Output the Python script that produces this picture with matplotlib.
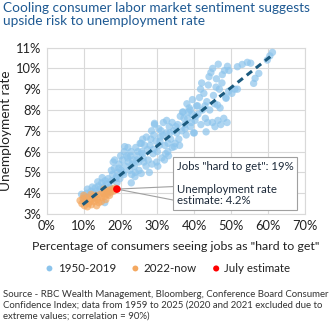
import matplotlib
matplotlib.use("Agg")
import matplotlib.pyplot as plt
from matplotlib.ticker import FuncFormatter, MultipleLocator
from matplotlib.patches import Rectangle

plt.rcParams['font.family'] = ['Lato', 'DejaVu Sans']

title = "Cooling consumer labor market sentiment suggests\nupside risk to unemployment rate"
xlabel = 'Percentage of consumers seeing jobs as "hard to get"'
ylabel = "Unemployment rate"
source = ("Source - RBC Wealth Management, Bloomberg, Conference Board Consumer\n"
          "Confidence Index; data from 1959 to 2025 (2020 and 2021 excluded due to\n"
          "extreme values; correlation = 90%)")
legend_labels = ["1950-2019", "2022-now", "July estimate"]

blue_x = [9.4, 10.2, 10.8, 11.5, 12.0, 12.6, 13.1, 13.5, 14.0, 14.4, 14.9, 15.3, 15.8, 16.2, 16.6,
          12.3, 13.8, 15.0, 15.7, 17.0, 17.5, 11.0, 10.0, 13.0, 16.5,
          17.8, 18.3, 18.7, 19.2, 19.6, 20.1, 20.5, 20.9, 21.3, 21.7, 22.1, 22.5, 22.9, 23.3, 23.7,
          24.1, 24.5, 24.9, 25.3, 25.7, 26.1, 26.5, 26.9, 20.0, 21.0, 22.0, 23.0, 24.0, 25.0, 19.0,
          18.0, 17.5, 26.0, 27.3, 27.8, 27.0, 18.4, 21.1, 25.6, 22.9, 25.6, 16.9, 19.8, 23.9,
          19.5, 20.7, 21.9, 23.1, 24.4, 25.9, 18.9, 22.7, 24.7, 26.3,
          27.5, 28.0, 28.4, 28.8, 29.2, 29.6, 30.0, 30.4, 30.8, 31.2, 31.6, 32.0, 32.4, 32.8, 33.2,
          33.6, 34.0, 34.4, 34.8, 35.2, 29.0, 30.5, 31.0, 32.5, 33.0, 34.0, 28.5, 29.8, 31.9, 34.6,
          29.2, 30.1, 32.2, 28.2, 30.7, 31.5, 33.4, 28.9, 32.9, 35.0,
          35.5, 35.8, 36.2, 36.6, 37.0, 37.4, 37.8, 38.2, 38.6, 39.0, 39.4, 39.5, 39.8, 40.2, 40.6,
          41.0, 41.4, 41.7, 41.8, 42.2, 42.6, 43.0, 43.2, 43.4, 43.8, 44.2, 44.5, 44.9, 45.2, 45.6,
          46.0, 46.4, 46.8, 47.2, 47.6, 48.0, 48.6, 48.9, 49.0, 49.4, 50.2, 51.7, 36.0, 38.0, 40.0,
          42.0, 44.0, 45.0, 46.5, 47.5, 48.2, 45.5, 47.0, 46.3, 36.8, 38.9, 40.9, 37.5, 39.2, 49.3,
          51.0, 48.6, 37.2, 38.4, 40.4, 42.9, 43.6, 45.9,
          51.7, 53.0, 54.4, 57.5, 56.5, 56.1, 59.8, 61.2, 60.5, 55.3]
blue_y = [3.95, 3.85, 4.0, 3.9, 4.1, 4.0, 4.25, 4.1, 4.35, 4.2, 4.5, 4.3, 4.6, 4.45, 4.7,
          4.3, 4.55, 4.75, 3.55, 4.3, 4.6, 4.2, 3.7, 3.8, 4.05,
          4.9, 5.2, 4.7, 5.0, 5.4, 5.1, 5.6, 4.9, 5.3, 5.8, 5.5, 5.1, 6.0, 5.6, 5.3,
          6.2, 5.8, 5.5, 6.4, 6.0, 5.7, 6.3, 5.3, 5.8, 6.0, 6.2, 4.9, 5.0, 5.1, 4.5,
          5.5, 5.1, 6.6, 6.1, 5.0, 6.7, 5.6, 6.24, 6.4, 4.5, 4.95, 4.3, 4.7, 4.8,
          5.2, 5.0, 5.7, 5.4, 5.6, 5.9, 4.8, 5.8, 6.0, 5.5,
          5.6, 6.3, 7.0, 5.9, 7.3, 6.5, 6.0, 7.1, 6.7, 5.7, 7.4, 6.3, 6.9, 6.0, 7.2,
          6.6, 6.2, 7.0, 6.4, 6.9, 6.8, 6.3, 7.0, 7.5, 5.8, 7.4, 5.4, 5.5, 5.6, 6.24,
          7.36, 5.3, 5.9, 6.6, 6.5, 6.8, 6.9, 6.1, 6.4, 7.2,
          7.3, 6.6, 7.7, 7.0, 7.9, 7.3, 6.8, 7.6, 8.1, 7.2, 7.8, 8.5, 6.9, 7.5, 8.2,
          7.8, 8.6, 9.0, 7.3, 8.0, 8.8, 7.6, 6.95, 8.4, 9.2, 8.0, 9.8, 7.4, 8.7, 7.2,
          9.5, 7.5, 9.0, 7.3, 9.7, 7.6, 8.6, 7.4, 10.1, 9.9, 8.8, 9.0, 6.3, 8.3, 6.9,
          9.3, 9.6, 10.0, 10.2, 9.3, 9.9, 8.3, 8.1, 8.24, 7.9, 8.0, 8.2, 7.1, 7.4, 8.9,
          9.0, 8.56, 7.6, 7.9, 7.7, 8.2, 7.4, 9.1,
          10.08, 10.19, 10.29, 9.76, 9.52, 9.28, 10.4, 10.77, 10.6, 10.25]

orange_x = [9.0, 9.5, 9.8, 10.2, 10.5, 10.9, 11.3, 11.7, 12.1, 12.5, 12.9, 13.3, 13.7, 14.1, 14.5,
            14.9, 15.3, 15.7, 16.1, 16.5, 16.9, 17.3, 17.7, 18.1, 11.0, 12.0, 13.5, 14.8, 16.0,
            10.0, 11.8, 13.0, 15.5, 17.0, 18.5]
orange_y = [3.65, 3.5, 3.75, 3.4, 3.6, 3.8, 3.5, 3.7, 3.45, 3.85, 3.6, 3.9, 3.7, 3.55, 3.95,
            3.8, 4.0, 3.85, 4.1, 3.95, 4.15, 4.05, 4.2, 4.1, 3.35, 3.95, 3.4, 3.6, 3.7,
            3.9, 3.6, 3.75, 4.2, 3.9, 4.25]

july_x = [19.0]
july_y = [4.2]

trend_x = [9.7, 61.6]
trend_y = [3.45, 10.7]

annot_text = 'Jobs "hard to get": 19%\n\nUnemployment rate\nestimate: 4.2%'

fig = plt.figure(figsize=(3.35, 3.35), dpi=100)
ax = fig.add_axes([0.140, 0.361, 0.770, 0.497])

ax.scatter(blue_x, blue_y, s=28, color='#8cc4ec', alpha=0.7, edgecolors='none', zorder=3,
           label=legend_labels[0])
ax.scatter(orange_x, orange_y, s=28, color='#f4a860', alpha=0.7, edgecolors='none', zorder=4,
           label=legend_labels[1])
ax.plot(trend_x, trend_y, color='#1b5a7e', lw=2.2, ls=(0, (2.2, 1.6)), zorder=5)
ax.scatter(july_x, july_y, s=30, color='#ff0000', edgecolors='none', zorder=6,
           label=legend_labels[2])

# callout leader lines and box
ax.plot([july_x[0], 34.1], [july_y[0], 4.32], color='#a0a0a0', lw=0.8, zorder=5)
ax.plot([july_x[0], 34.1], [july_y[0], 3.68], color='#a0a0a0', lw=0.8, zorder=5)
ax.add_patch(Rectangle((34.1, 3.2), 33.7, 2.52, fc='white', ec='#a0a0a0', lw=0.8, zorder=7))
ax.text(35.3, 5.55, annot_text, fontsize=8.2, color='#1d2a3a', va='top', ha='left',
        linespacing=1.05, zorder=8)

ax.set_xlim(0, 70)
ax.set_ylim(3, 11)
ax.xaxis.set_major_locator(MultipleLocator(10))
ax.yaxis.set_major_locator(MultipleLocator(1))
ax.xaxis.set_major_formatter(FuncFormatter(lambda v, p: f"{v:.0f}%"))
ax.yaxis.set_major_formatter(FuncFormatter(lambda v, p: f"{v:.0f}%"))
ax.grid(True, color='#d9d9d9', lw=0.8, zorder=0)
ax.set_axisbelow(True)
for s in ax.spines.values():
    s.set_color('#d9d9d9')
    s.set_linewidth(0.8)
ax.tick_params(length=0, labelsize=9.3, colors='#222222', pad=4)
ax.set_xlabel(xlabel, fontsize=8.9, color='#222222', labelpad=7)
ax.set_ylabel(ylabel, fontsize=9.8, color='#222222', labelpad=3)

leg = fig.legend(loc='center', bbox_to_anchor=(0.49, 0.2), ncol=3, frameon=False,
                 fontsize=8.3, handletextpad=-0.3, columnspacing=0.7, markerscale=0.8,
                 labelcolor='#222222')
for h in leg.legend_handles:
    h.set_alpha(1)

fig.text(0.01, 0.995, title, fontsize=9.8, color='#1f5a93', va='top', ha='left', linespacing=1.15)
fig.text(0.01, 0.135, source, fontsize=6.9, color='#333333', va='top', ha='left', linespacing=1.3)

fig.savefig("out.png", dpi=100)
